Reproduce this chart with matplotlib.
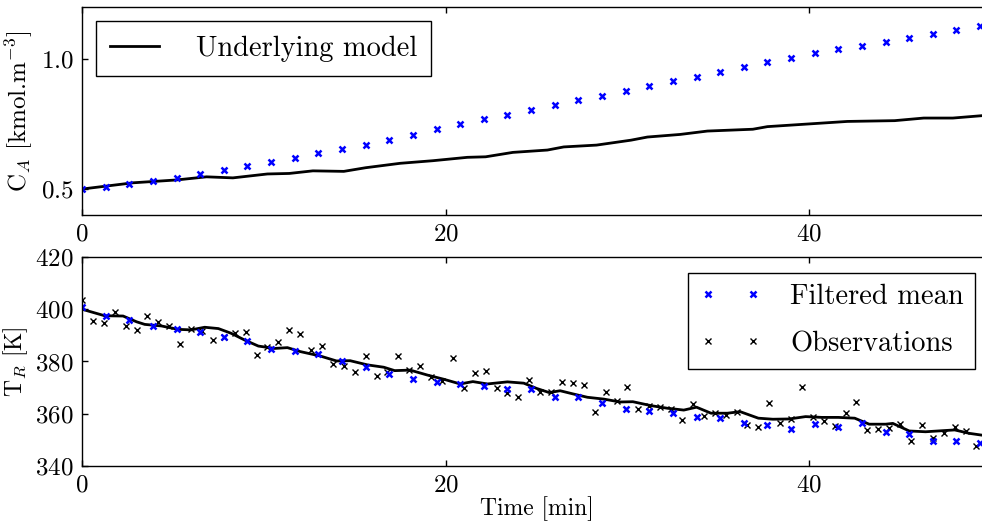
import numpy as np
import matplotlib
matplotlib.use("Agg")
import matplotlib.pyplot as plt

plt.rcParams['font.family'] = ['cmr10', 'DejaVu Serif']
plt.rcParams['mathtext.fontset'] = 'cm'
plt.rcParams['axes.formatter.use_mathtext'] = True
plt.rcParams['axes.unicode_minus'] = False

# filtered mean (every 1.3 min)
t_filt = [round(1.3 * k, 1) for k in range(39)]
ca_filt = [0.500, 0.507, 0.519, 0.531, 0.543, 0.559, 0.573, 0.588, 0.603, 0.619,
           0.637, 0.653, 0.670, 0.688, 0.709, 0.730, 0.749, 0.769, 0.785, 0.804,
           0.822, 0.841, 0.858, 0.877, 0.895, 0.914, 0.932, 0.951, 0.969, 0.987,
           1.005, 1.022, 1.037, 1.051, 1.065, 1.082, 1.097, 1.113, 1.128]
tr_filt = [401.0, 397.4, 395.9, 393.6, 392.3, 391.2, 389.4, 387.8, 384.7, 384.0,
           382.8, 380.0, 377.7, 375.4, 373.2, 372.2, 371.4, 370.8, 369.5, 369.3,
           366.3, 366.4, 364.0, 361.9, 361.0, 360.4, 358.8, 358.5, 356.3, 355.8,
           354.3, 356.0, 354.8, 356.6, 353.1, 352.4, 349.6, 349.5, 348.9]

# observations of reactor temperature (every 0.6 min)
t_obs = [round(0.6 * k, 1) for k in range(83)]
tr_obs = [403.5, 395.6, 394.9, 399.1, 393.6, 392.1, 397.3, 395.1, 393.7, 386.8,
          392.4, 391.5, 388.1, 389.5, 391.0, 391.4, 382.6, 385.4, 387.3, 392.1,
          390.6, 384.5, 386.0, 379.0, 378.4, 375.9, 382.0, 374.6, 376.1, 382.2,
          376.7, 378.4, 374.0, 372.5, 381.2, 369.9, 375.7, 376.4, 370.0, 367.8,
          366.4, 372.9, 368.2, 368.2, 372.2, 371.7, 370.9, 360.7, 368.2, 364.9,
          370.2, 361.8, 363.0, 362.7, 362.0, 357.6, 363.7, 359.3, 360.3, 359.5,
          360.8, 355.8, 355.1, 364.2, 356.6, 357.9, 370.1, 358.9, 357.2, 355.3,
          360.4, 364.6, 353.8, 354.2, 354.4, 356.0, 349.7, 355.6, 350.6, 352.6,
          354.9, 353.4, 347.8]

# underlying model
t_ca = [0, 2.8, 5.2, 6.85, 8.3, 10.2, 11.4, 12.7, 14.4, 15.6, 17.5, 19.3, 21.2,
        22.2, 23.7, 25.6, 26.5, 28.3, 30.2, 31.1, 32.9, 34.4, 36.9, 37.7, 39.9,
        42.1, 44.7, 46.3, 47.9, 50.0]
ca_model = [0.500, 0.524, 0.535, 0.547, 0.543, 0.558, 0.560, 0.570, 0.568, 0.582,
            0.599, 0.609, 0.622, 0.624, 0.641, 0.650, 0.662, 0.669, 0.688, 0.700,
            0.710, 0.723, 0.730, 0.740, 0.750, 0.760, 0.763, 0.773, 0.773, 0.785]

t_tr = [0, 1.25, 2.26, 3.0, 3.45, 4.37, 5.28, 6.0, 6.75, 7.5, 8.2, 8.95, 9.7,
        10.6, 11.3, 12.0, 13.1, 14.0, 14.75, 15.7, 16.6, 17.2, 18.05, 19.0, 19.9,
        20.8, 21.5, 22.3, 23.4, 24.3, 25.0, 25.7, 26.3, 27.0, 27.8, 28.7, 29.6,
        30.3, 31.3, 32.2, 33.1, 33.8, 34.6, 35.5, 36.2, 37.2, 38.0, 38.9, 39.8,
        40.7, 41.6, 42.5, 43.3, 44.2, 44.6, 45.5, 46.4, 47.3, 48.0, 48.8, 50.0]
tr_model = [400.0, 397.5, 397.4, 395.2, 394.2, 393.6, 392.3, 392.1, 393.1, 392.6,
            390.8, 388.2, 385.9, 385.0, 385.3, 383.8, 382.1, 380.2, 380.3, 378.7,
            377.8, 376.5, 376.7, 374.8, 373.2, 371.4, 372.3, 371.4, 372.2, 371.7,
            369.7, 368.1, 368.8, 367.6, 366.3, 365.6, 364.5, 364.6, 363.1, 362.1,
            361.4, 362.5, 360.2, 360.2, 360.8, 358.3, 357.9, 358.0, 358.9, 358.6,
            358.6, 358.3, 356.0, 356.0, 356.3, 353.4, 353.1, 353.5, 353.8, 352.5,
            351.3]

fig = plt.figure(figsize=(9.82, 5.22), dpi=100)
# right edge of the axes lies just past the image border
ax1 = fig.add_axes([0.0835, 0.588, 0.9257, 0.3986])
ax2 = fig.add_axes([0.0835, 0.1073, 0.9257, 0.4004])

fs = 17
lfs = 20.5

ax1.plot(t_ca, ca_model, color='black', lw=2, label='Underlying model')
ax1.plot(t_filt, ca_filt, 'x', color='blue', ms=4, mew=1.8)
ax1.set_xlim(0, 50)
ax1.set_ylim(0.4, 1.2)
ax1.set_xticks([0, 20, 40])
ax1.set_yticks([0.5, 1.0])
ax1.set_ylabel(r'C$_A$ [kmol.m$^{-3}$]', fontsize=18)
leg1 = ax1.legend(loc='upper left', fontsize=lfs, fancybox=False, framealpha=1,
                  edgecolor='black', handlelength=1.7, handletextpad=1.3,
                  borderaxespad=0.5, borderpad=0.5)
leg1.get_frame().set_linewidth(1.0)

ax2.plot(t_tr, tr_model, color='black', lw=2)
ax2.plot(t_obs, tr_obs, 'x', color='black', ms=4, mew=1.0, label='Observations')
ax2.plot(t_filt, tr_filt, 'x', color='blue', ms=4, mew=1.8, label='Filtered mean')
ax2.set_xlim(0, 50)
ax2.set_ylim(340, 420)
ax2.set_xticks([0, 20, 40])
ax2.set_yticks([340, 360, 380, 400, 420])
ax2.set_ylabel(r'T$_R$ [K]', fontsize=fs)
ax2.set_xlabel('Time [min]', fontsize=fs, labelpad=0)
h, l = ax2.get_legend_handles_labels()
leg2 = ax2.legend([h[1], h[0]], [l[1], l[0]], loc='upper right', fontsize=lfs,
                  numpoints=2, fancybox=False, framealpha=1, edgecolor='black',
                  handlelength=2.2, handletextpad=1.0, labelspacing=0.72,
                  borderaxespad=0.55, borderpad=0.4)
leg2.get_frame().set_linewidth(1.0)

for ax in (ax1, ax2):
    ax.tick_params(direction='in', top=True, right=True, labelsize=18,
                   length=4, width=1, pad=6)
    for s in ax.spines.values():
        s.set_linewidth(1.0)

fig.savefig('out.png', dpi=100)
